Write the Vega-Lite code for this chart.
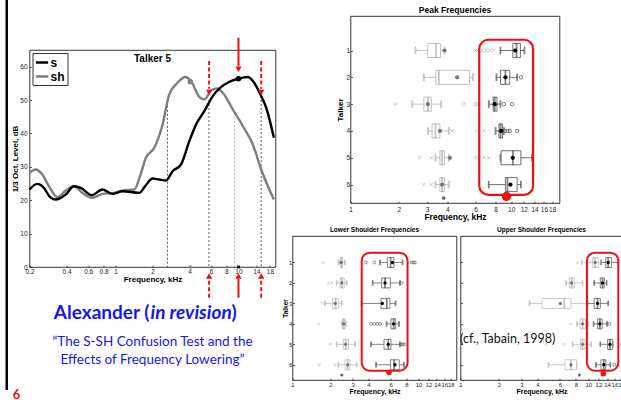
{
  "$schema": "https://vega.github.io/schema/vega-lite/v6.json",
  "padding": {"left": 5.5, "top": 0, "right": 0, "bottom": 0},
  "background": "#ffffff",
  "config": {
    "view": {"stroke": null},
    "font": "Liberation Sans",
    "axis": {"labelFont": "Liberation Sans", "titleFont": "Liberation Sans", "labelColor": "#222", "titleColor": "#000", "grid": false, "domain": false, "tickColor": "#000", "tickWidth": 0.6, "labelFlush": false, "labelOverlap": false, "labelBound": false},
    "title": {"font": "Liberation Sans", "color": "#000"}
  },
  "datasets": {
    "lc_curves": [
      {"f": 0.2, "v": 28.2, "g": "sh"}, {"f": 0.224, "v": 29.2, "g": "sh"}, {"f": 0.254, "v": 27.7, "g": "sh"}, {"f": 0.288, "v": 24.2, "g": "sh"}, {"f": 0.3367, "v": 20.9, "g": "sh"}, {"f": 0.394, "v": 22.9, "g": "sh"}, {"f": 0.46, "v": 24.2, "g": "sh"}, {"f": 0.538, "v": 22.2, "g": "sh"}, {"f": 0.641, "v": 20.7, "g": "sh"}, {"f": 0.783, "v": 21.9, "g": "sh"}, {"f": 0.975, "v": 22.2, "g": "sh"}, {"f": 1.14, "v": 22.9, "g": "sh"}, {"f": 1.42, "v": 23.2, "g": "sh"}, {"f": 1.609, "v": 28.0, "g": "sh"}, {"f": 1.767, "v": 32.7, "g": "sh"}, {"f": 2.066, "v": 35.7, "g": "sh"}, {"f": 2.416, "v": 42.7, "g": "sh"}, {"f": 2.738, "v": 51.7, "g": "sh"}, {"f": 3.2, "v": 55.2, "g": "sh"}, {"f": 3.7, "v": 56.9, "g": "sh"}, {"f": 4.113, "v": 55.7, "g": "sh"}, {"f": 4.81, "v": 50.9, "g": "sh"}, {"f": 5.28, "v": 50.2, "g": "sh"}, {"f": 5.99, "v": 52.9, "g": "sh"}, {"f": 6.66, "v": 53.5, "g": "sh"}, {"f": 7.45, "v": 52.2, "g": "sh"}, {"f": 8.99, "v": 47.2, "g": "sh"}, {"f": 10.85, "v": 42.2, "g": "sh"}, {"f": 13.09, "v": 36.7, "g": "sh"}, {"f": 15.3, "v": 29.2, "g": "sh"}, {"f": 19.41, "v": 20.2, "g": "sh"},
      {"f": 0.2, "v": 23.2, "g": "s"}, {"f": 0.2312, "v": 24.9, "g": "s"}, {"f": 0.262, "v": 23.7, "g": "s"}, {"f": 0.29, "v": 21.2, "g": "s"}, {"f": 0.326, "v": 20.2, "g": "s"}, {"f": 0.394, "v": 21.7, "g": "s"}, {"f": 0.46, "v": 24.2, "g": "s"}, {"f": 0.522, "v": 23.7, "g": "s"}, {"f": 0.641, "v": 21.5, "g": "s"}, {"f": 0.783, "v": 23.2, "g": "s"}, {"f": 0.945, "v": 21.9, "g": "s"}, {"f": 1.14, "v": 22.7, "g": "s"}, {"f": 1.56, "v": 22.2, "g": "s"}, {"f": 1.767, "v": 24.5, "g": "s"}, {"f": 2.0, "v": 26.5, "g": "s"}, {"f": 2.27, "v": 26.2, "g": "s"}, {"f": 2.57, "v": 25.9, "g": "s"}, {"f": 2.915, "v": 28.7, "g": "s"}, {"f": 3.41, "v": 30.7, "g": "s"}, {"f": 3.985, "v": 37.7, "g": "s"}, {"f": 4.52, "v": 42.7, "g": "s"}, {"f": 5.28, "v": 46.7, "g": "s"}, {"f": 6.18, "v": 51.2, "g": "s"}, {"f": 7.0, "v": 53.5, "g": "s"}, {"f": 8.45, "v": 55.5, "g": "s"}, {"f": 10.0, "v": 56.4, "g": "s"}, {"f": 11.92, "v": 56.9, "g": "s"}, {"f": 13.09, "v": 55.7, "g": "s"}, {"f": 15.3, "v": 51.2, "g": "s"}, {"f": 16.81, "v": 47.7, "g": "s"}, {"f": 19.41, "v": 38.7, "g": "s"}
    ],
    "lc_guides": [
      {"f": 2.65, "v": 48.3, "v2": 0, "c": "dark"},
      {"f": 5.75, "v": 50.0, "v2": 0, "c": "dark"},
      {"f": 9.28, "v": 46.2, "v2": 0, "c": "light"},
      {"f": 15.3, "v": 51.2, "v2": 0, "c": "dark"}
    ],
    "lc_dots": [
      {"f": 10.0, "v": 56.4, "g": "s", "k": "curve"},
      {"f": 4.06, "v": 55.5, "g": "sh", "k": "curve"},
      {"f": 10.0, "v": 0, "g": "s", "k": "axis"},
      {"f": 4.06, "v": 0, "g": "sh", "k": "axis"}
    ],
    "lc_arrows": [
      {"f": 5.77, "v": 61.7, "v2": 53.4, "k": "dashed"},
      {"f": 10.0, "v": 68.7, "v2": 60.2, "k": "solid"},
      {"f": 15.3, "v": 61.7, "v2": 53.4, "k": "dashed"},
      {"f": 5.77, "v": -9.2, "v2": -3.6, "k": "dashed"},
      {"f": 10.0, "v": -9.2, "v2": -3.6, "k": "solid"},
      {"f": 15.3, "v": -9.2, "v2": -3.6, "k": "dashed"}
    ],
    "lc_heads": [
      {"f": 5.77, "v": 52.3, "d": "down"},
      {"f": 10.0, "v": 59.2, "d": "down"},
      {"f": 15.3, "v": 52.3, "d": "down"},
      {"f": 5.77, "v": -2.7, "d": "up"},
      {"f": 10.0, "v": -2.7, "d": "up"},
      {"f": 15.3, "v": -2.7, "d": "up"}
    ],
    "lc_label": [{"f": 2.0, "v": 62.3, "text": "Talker 5"}],
    "slide": [
      {"id": "t1", "text": "Alexander ("},
      {"id": "t2", "text": "in revision"},
      {"id": "t3", "text": ")"},
      {"id": "sub", "text": "“The S-SH Confusion Test and the\nEffects of Frequency Lowering”"},
      {"id": "num", "text": "6"}
    ],
    "bx": [
      {"chart": "peak", "g": "sh", "t": 1, "wlo": 2.54, "q1": 3.03, "med": 3.41, "q3": 3.63, "whi": 3.85, "mean": 3.85},
      {"chart": "peak", "g": "sh", "t": 2, "wlo": 2.86, "q1": 3.4, "med": 3.55, "q3": 5.5, "whi": 5.8, "mean": 4.61},
      {"chart": "peak", "g": "sh", "t": 3, "wlo": 2.42, "q1": 2.86, "med": 3.03, "q3": 3.19, "whi": 3.67, "mean": 3.03},
      {"chart": "peak", "g": "sh", "t": 4, "wlo": 3.04, "q1": 3.22, "med": 3.38, "q3": 3.6, "whi": 4.09, "mean": 3.6},
      {"chart": "peak", "g": "sh", "t": 5, "wlo": 3.38, "q1": 3.6, "med": 3.72, "q3": 3.85, "whi": 4.09, "mean": 4.16},
      {"chart": "peak", "g": "sh", "t": 6, "wlo": 3.38, "q1": 3.6, "med": 3.72, "q3": 3.85, "whi": 4.09, "mean": 3.72},
      {"chart": "peak", "g": "s", "t": 1, "wlo": 8.58, "q1": 10.25, "med": 10.8, "q3": 11.42, "whi": 12.1, "mean": 10.6},
      {"chart": "peak", "g": "s", "t": 2, "wlo": 8.1, "q1": 8.58, "med": 9.21, "q3": 9.8, "whi": 10.9, "mean": 9.21},
      {"chart": "peak", "g": "s", "t": 3, "wlo": 7.26, "q1": 7.73, "med": 7.9, "q3": 8.17, "whi": 8.58, "mean": 7.91},
      {"chart": "peak", "g": "s", "t": 4, "wlo": 8.0, "q1": 8.4, "med": 8.6, "q3": 8.85, "whi": 9.0, "mean": 8.66},
      {"chart": "peak", "g": "s", "t": 5, "wlo": 8.58, "q1": 8.66, "med": 10.25, "q3": 11.5, "whi": 13.5, "mean": 10.25},
      {"chart": "peak", "g": "s", "t": 6, "wlo": 7.26, "q1": 9.21, "med": 9.48, "q3": 10.9, "whi": 11.5, "mean": 9.9},
      {"chart": "lower", "g": "sh", "t": 1, "wlo": 2.31, "q1": 2.39, "med": 2.45, "q3": 2.5, "whi": 2.61, "mean": 2.43},
      {"chart": "lower", "g": "sh", "t": 2, "wlo": 2.24, "q1": 2.39, "med": 2.47, "q3": 2.57, "whi": 2.69, "mean": 2.46},
      {"chart": "lower", "g": "sh", "t": 3, "wlo": 1.81, "q1": 2.08, "med": 2.2, "q3": 2.31, "whi": 2.46, "mean": 2.18},
      {"chart": "lower", "g": "sh", "t": 4, "wlo": 2.47, "q1": 2.49, "med": 2.55, "q3": 2.61, "whi": 2.65, "mean": 2.55},
      {"chart": "lower", "g": "sh", "t": 5, "wlo": 2.24, "q1": 2.53, "med": 2.64, "q3": 2.78, "whi": 3.14, "mean": 2.64},
      {"chart": "lower", "g": "sh", "t": 6, "wlo": 2.31, "q1": 2.61, "med": 2.74, "q3": 2.86, "whi": 3.23, "mean": 2.74},
      {"chart": "lower", "g": "s", "t": 1, "wlo": 4.95, "q1": 5.65, "med": 6.0, "q3": 6.38, "whi": 7.47, "mean": 6.19},
      {"chart": "lower", "g": "s", "t": 2, "wlo": 4.32, "q1": 5.1, "med": 5.42, "q3": 5.97, "whi": 7.12, "mean": 5.42},
      {"chart": "lower", "g": "s", "t": 3, "wlo": 3.54, "q1": 5.04, "med": 5.6, "q3": 5.93, "whi": 6.58, "mean": 5.16},
      {"chart": "lower", "g": "s", "t": 4, "wlo": 5.58, "q1": 6.04, "med": 6.34, "q3": 6.58, "whi": 7.0, "mean": 6.34},
      {"chart": "lower", "g": "s", "t": 5, "wlo": 4.2, "q1": 5.32, "med": 5.75, "q3": 6.04, "whi": 7.12, "mean": 5.75},
      {"chart": "lower", "g": "s", "t": 6, "wlo": 4.6, "q1": 6.0, "med": 6.4, "q3": 7.03, "whi": 7.66, "mean": 6.5},
      {"chart": "upper", "g": "sh", "t": 1, "wlo": 8.87, "q1": 10.8, "med": 11.3, "q3": 11.97, "whi": 12.55, "mean": 11.3},
      {"chart": "upper", "g": "sh", "t": 2, "wlo": 6.68, "q1": 7.1, "med": 7.41, "q3": 7.78, "whi": 9.0, "mean": 7.41},
      {"chart": "upper", "g": "sh", "t": 3, "wlo": 3.46, "q1": 4.34, "med": 6.49, "q3": 7.31, "whi": 9.7, "mean": 6.04},
      {"chart": "upper", "g": "sh", "t": 4, "wlo": 8.15, "q1": 8.6, "med": 9.02, "q3": 9.47, "whi": 10.0, "mean": 9.02},
      {"chart": "upper", "g": "sh", "t": 5, "wlo": 7.54, "q1": 8.66, "med": 9.02, "q3": 9.41, "whi": 10.5, "mean": 9.02},
      {"chart": "upper", "g": "sh", "t": 6, "wlo": 4.87, "q1": 6.56, "med": 7.31, "q3": 8.1, "whi": 8.1, "mean": 7.31},
      {"chart": "upper", "g": "s", "t": 1, "wlo": 12.55, "q1": 13.7, "med": 14.3, "q3": 15.2, "whi": 17.2, "mean": 14.3},
      {"chart": "upper", "g": "s", "t": 2, "wlo": 11.1, "q1": 12.4, "med": 12.9, "q3": 13.3, "whi": 13.9, "mean": 12.9},
      {"chart": "upper", "g": "s", "t": 3, "wlo": 9.87, "q1": 11.1, "med": 11.8, "q3": 12.4, "whi": 14.3, "mean": 11.8},
      {"chart": "upper", "g": "s", "t": 4, "wlo": 11.0, "q1": 11.8, "med": 12.3, "q3": 12.8, "whi": 14.0, "mean": 12.3},
      {"chart": "upper", "g": "s", "t": 5, "wlo": 12.4, "q1": 14.15, "med": 14.75, "q3": 15.5, "whi": 15.5, "mean": 14.75},
      {"chart": "upper", "g": "s", "t": 6, "wlo": 11.47, "q1": 12.55, "med": 13.2, "q3": 13.7, "whi": 14.85, "mean": 13.2}
    ],
    "ol": [
      {"chart": "peak", "g": "sh", "t": 1, "f": 6.0, "k": "x"}, {"chart": "peak", "g": "sh", "t": 1, "f": 6.37, "k": "o"}, {"chart": "peak", "g": "sh", "t": 1, "f": 6.77, "k": "o"}, {"chart": "peak", "g": "sh", "t": 1, "f": 7.15, "k": "o"}, {"chart": "peak", "g": "sh", "t": 1, "f": 7.6, "k": "o"},
      {"chart": "peak", "g": "s", "t": 2, "f": 11.5, "k": "o"},
      {"chart": "peak", "g": "sh", "t": 3, "f": 1.905, "k": "x"}, {"chart": "peak", "g": "sh", "t": 3, "f": 5.07, "k": "o"}, {"chart": "peak", "g": "sh", "t": 3, "f": 6.0, "k": "o"}, {"chart": "peak", "g": "sh", "t": 3, "f": 6.2, "k": "o"},
      {"chart": "peak", "g": "s", "t": 3, "f": 9.0, "k": "o"}, {"chart": "peak", "g": "s", "t": 3, "f": 10.14, "k": "o"},
      {"chart": "peak", "g": "sh", "t": 4, "f": 4.29, "k": "x"}, {"chart": "peak", "g": "sh", "t": 4, "f": 6.07, "k": "x"}, {"chart": "peak", "g": "sh", "t": 4, "f": 6.8, "k": "x"},
      {"chart": "peak", "g": "s", "t": 4, "f": 9.15, "k": "o"}, {"chart": "peak", "g": "s", "t": 4, "f": 9.5, "k": "o"}, {"chart": "peak", "g": "s", "t": 4, "f": 9.8, "k": "o"}, {"chart": "peak", "g": "s", "t": 4, "f": 10.9, "k": "o"},
      {"chart": "peak", "g": "sh", "t": 5, "f": 2.69, "k": "x"}, {"chart": "peak", "g": "sh", "t": 5, "f": 3.19, "k": "x"}, {"chart": "peak", "g": "sh", "t": 5, "f": 6.0, "k": "x"}, {"chart": "peak", "g": "sh", "t": 5, "f": 6.3, "k": "x"}, {"chart": "peak", "g": "sh", "t": 5, "f": 6.77, "k": "x"}, {"chart": "peak", "g": "sh", "t": 5, "f": 7.25, "k": "x"},
      {"chart": "peak", "g": "sh", "t": 6, "f": 2.86, "k": "x"}, {"chart": "peak", "g": "sh", "t": 6, "f": 3.19, "k": "x"},
      {"chart": "lower", "g": "sh", "t": 1, "f": 1.76, "k": "x"}, {"chart": "lower", "g": "sh", "t": 2, "f": 1.93, "k": "x"}, {"chart": "lower", "g": "sh", "t": 2, "f": 2.05, "k": "x"}, {"chart": "lower", "g": "sh", "t": 3, "f": 1.73, "k": "x"}, {"chart": "lower", "g": "sh", "t": 4, "f": 1.61, "k": "x"}, {"chart": "lower", "g": "sh", "t": 5, "f": 1.99, "k": "x"}, {"chart": "lower", "g": "sh", "t": 6, "f": 1.63, "k": "x"}, {"chart": "lower", "g": "sh", "t": 6, "f": 2.18, "k": "x"},
      {"chart": "lower", "g": "s", "t": 1, "f": 3.83, "k": "o"}, {"chart": "lower", "g": "s", "t": 1, "f": 4.46, "k": "o"}, {"chart": "lower", "g": "s", "t": 1, "f": 8.8, "k": "o"}, {"chart": "lower", "g": "s", "t": 1, "f": 9.1, "k": "o"}, {"chart": "lower", "g": "s", "t": 1, "f": 9.36, "k": "o"},
      {"chart": "lower", "g": "s", "t": 2, "f": 7.35, "k": "o"},
      {"chart": "lower", "g": "s", "t": 4, "f": 4.2, "k": "o"}, {"chart": "lower", "g": "s", "t": 4, "f": 4.45, "k": "o"}, {"chart": "lower", "g": "s", "t": 4, "f": 4.7, "k": "o"}, {"chart": "lower", "g": "s", "t": 4, "f": 4.95, "k": "o"},
      {"chart": "lower", "g": "s", "t": 5, "f": 7.25, "k": "o"}, {"chart": "lower", "g": "s", "t": 5, "f": 7.5, "k": "o"}, {"chart": "lower", "g": "s", "t": 5, "f": 7.75, "k": "o"},
      {"chart": "upper", "g": "sh", "t": 1, "f": 8.25, "k": "x"}, {"chart": "upper", "g": "sh", "t": 4, "f": 7.23, "k": "x"}, {"chart": "upper", "g": "sh", "t": 5, "f": 4.67, "k": "x"}, {"chart": "upper", "g": "sh", "t": 5, "f": 6.41, "k": "x"},
      {"chart": "upper", "g": "s", "t": 4, "f": 14.6, "k": "o"}, {"chart": "upper", "g": "s", "t": 5, "f": 18.3, "k": "o"}, {"chart": "upper", "g": "s", "t": 6, "f": 15.96, "k": "o"}
    ],
    "hl": [
      {"chart": "peak", "f": 6.33, "f2": 13.7, "t": 0.6, "t2": 6.38},
      {"chart": "lower", "f": 3.54, "f2": 8.18, "t": 0.52, "t2": 6.29},
      {"chart": "upper", "f": 9.75, "f2": 17.16, "t": 0.52, "t2": 6.29}
    ],
    "rd": [
      {"chart": "peak", "f": 9.35, "t": 6.44},
      {"chart": "lower", "f": 5.83, "t": 6.38},
      {"chart": "upper", "f": 13.1, "t": 6.44}
    ],
    "gm": [
      {"chart": "peak", "f": 3.8, "t": 6.5},
      {"chart": "lower", "f": 2.46, "t": 6.5},
      {"chart": "upper", "f": 8.5, "t": 6.5}
    ],
    "note": [{"chart": "upper", "f": 2.34, "t": 4.76, "text": "(cf., Tabain, 1998)"}]
  },
  "resolve": {"scale": {"color": "independent", "stroke": "independent", "shape": "independent", "strokeDash": "independent", "fill": "independent"}},
  "spacing": 2,
  "hconcat": [
    {
      "width": 2.5, "height": 390,
      "view": {"fill": "#000000", "stroke": null},
      "data": {"values": []},
      "mark": "point",
      "encoding": {}
    },
    {
      "spacing": 4,
      "resolve": {"scale": {"color": "independent", "stroke": "independent", "shape": "independent", "strokeDash": "independent", "fill": "independent"}},
      "vconcat": [
        {"width": 1, "height": 32, "data": {"values": []}, "mark": "point", "encoding": {}},
        {
          "width": 246, "height": 217,
          "view": {"stroke": "#000", "strokeWidth": 0.8},
          "encoding": {
            "x": {"field": "f", "type": "quantitative", "scale": {"type": "log", "domain": [0.2, 20], "nice": false},
                  "axis": {"values": [0.2, 0.4, 0.6, 0.8, 1, 2, 4, 6, 8, 10, 14, 18], "format": "~g", "title": "Frequency, kHz", "labelFontSize": 6.5, "titleFontSize": 8, "titleFontWeight": "bold", "tickSize": -2, "labelPadding": 3.5, "titlePadding": 0}},
            "y": {"field": "v", "type": "quantitative", "scale": {"domain": [0, 65], "nice": false, "zero": false},
                  "axis": {"values": [0, 10, 20, 30, 40, 50, 60], "title": "1/3 Oct. Level, dB", "labelFontSize": 6.5, "titleFontSize": 8, "titleFontWeight": "bold", "tickSize": -2, "labelPadding": 4.5, "titlePadding": 0}}
          },
          "layer": [
            {
              "data": {"name": "lc_guides"},
              "mark": {"type": "rule", "strokeWidth": 0.8, "strokeDash": [2, 2]},
              "encoding": {
                "y2": {"field": "v2"},
                "stroke": {"field": "c", "type": "nominal", "scale": {"domain": ["dark", "light"], "range": ["#333333", "#aaaaaa"]}, "legend": null}
              }
            },
            {
              "data": {"name": "lc_curves"},
              "mark": {"type": "line", "interpolate": "monotone", "strokeWidth": 2.4},
              "encoding": {
                "color": {"field": "g", "type": "nominal", "scale": {"domain": ["s", "sh"], "range": ["#000000", "#7f7f7f"]},
                  "legend": {"title": null, "orient": "top-left", "offset": 3, "padding": 2, "strokeColor": "#333", "fillColor": "#fff", "labelFontSize": 12, "labelFontWeight": "bold", "labelFont": "Liberation Sans", "labelColor": "#000", "symbolType": "stroke", "symbolStrokeWidth": 2.5, "symbolSize": 150, "rowPadding": 0, "labelOffset": 1}}
              }
            },
            {
              "data": {"name": "lc_dots"},
              "transform": [{"filter": "datum.k == 'curve'"}],
              "mark": {"type": "point", "filled": true, "size": 30, "opacity": 1},
              "encoding": {
                "fill": {"field": "g", "type": "nominal", "scale": {"domain": ["s", "sh"], "range": ["#000000", "#7f7f7f"]}, "legend": null}
              }
            },
            {
              "data": {"name": "lc_dots"},
              "transform": [{"filter": "datum.k == 'axis'"}],
              "mark": {"type": "square", "size": 8, "opacity": 1},
              "encoding": {
                "fill": {"field": "g", "type": "nominal", "scale": {"domain": ["s", "sh"], "range": ["#000000", "#7f7f7f"]}, "legend": null}
              }
            },
            {
              "data": {"name": "lc_label"},
              "mark": {"type": "text", "fontSize": 10, "fontWeight": "bold", "font": "Liberation Sans", "color": "#000"},
              "encoding": {"text": {"field": "text"}}
            },
            {
              "data": {"name": "lc_arrows"},
              "mark": {"type": "rule", "strokeWidth": 2, "color": "#ee1111"},
              "encoding": {
                "y2": {"field": "v2"},
                "strokeDash": {"field": "k", "type": "nominal", "scale": {"domain": ["solid", "dashed"], "range": [[1, 0], [4, 2.5]]}, "legend": null}
              }
            },
            {
              "data": {"name": "lc_heads"},
              "mark": {"type": "point", "filled": true, "size": 40, "color": "#ee1111", "opacity": 1},
              "encoding": {
                "shape": {"field": "d", "type": "nominal", "scale": {"domain": ["down", "up"], "range": ["triangle-down", "triangle-up"]}, "legend": null}
              }
            }
          ]
        },
        {
          "width": 246, "height": 100,
          "data": {"name": "slide"},
          "layer": [
            {"transform": [{"filter": "datum.id == 't1'"}], "mark": {"type": "text", "font": "Lato", "fontSize": 19, "fontWeight": "bold", "color": "#1515ee", "align": "right", "baseline": "alphabetic", "dx": -3, "dy": -35}, "encoding": {"text": {"field": "text"}}},
            {"transform": [{"filter": "datum.id == 't2'"}], "mark": {"type": "text", "font": "Lato", "fontSize": 19, "fontWeight": "bold", "fontStyle": "italic", "color": "#1515ee", "align": "left", "baseline": "alphabetic", "dx": -2, "dy": -35}, "encoding": {"text": {"field": "text"}}},
            {"transform": [{"filter": "datum.id == 't3'"}], "mark": {"type": "text", "font": "Lato", "fontSize": 19, "fontWeight": "bold", "color": "#1515ee", "align": "left", "baseline": "alphabetic", "dx": 79, "dy": -35}, "encoding": {"text": {"field": "text"}}},
            {"transform": [{"filter": "datum.id == 'sub'"}], "mark": {"type": "text", "font": "Lato", "fontSize": 13.5, "color": "#1515ee", "align": "center", "baseline": "alphabetic", "lineBreak": "\n", "lineHeight": 18, "dy": -8}, "encoding": {"text": {"field": "text"}}},
            {"transform": [{"filter": "datum.id == 'num'"}], "mark": {"type": "text", "font": "Lato", "fontSize": 13, "fontWeight": "bold", "color": "#e01010", "align": "center", "baseline": "alphabetic", "dx": -136, "dy": 45}, "encoding": {"text": {"field": "text"}}}
          ]
        }
      ]
    },
    {
      "spacing": 4,
      "resolve": {"scale": {"color": "independent", "stroke": "independent", "shape": "independent", "strokeDash": "independent", "fill": "independent"}},
      "vconcat": [
        {"width": 1, "height": 1, "data": {"values": []}, "mark": "point", "encoding": {}},
        {
          "spacing": 4,
          "resolve": {"scale": {"color": "independent", "stroke": "independent", "shape": "independent", "strokeDash": "independent", "fill": "independent"}},
          "hconcat": [
            {"width": 39, "height": 1, "data": {"values": []}, "mark": "point", "encoding": {}},
            {
              "width": 209, "height": 187,
              "view": {"stroke": "#000", "strokeWidth": 0.8},
              "title": {"text": "Peak Frequencies", "fontSize": 8.5, "fontWeight": "bold", "offset": 2},
              "encoding": {
                "y": {"field": "t", "type": "quantitative", "scale": {"domain": [-0.1, 6.5], "reverse": true, "nice": false, "zero": false},
                      "axis": {"values": [1, 2, 3, 4, 5, 6], "title": "Talker", "labelFontSize": 6.5, "titleFontSize": 8, "titleFontWeight": "bold", "tickSize": -2, "labelPadding": 3, "titlePadding": 1}}
              },
              "layer": [
                {"data": {"name": "bx"}, "transform": [{"filter": "datum.chart == 'peak'"}],
                 "mark": {"type": "rule", "strokeWidth": 0.8},
                 "encoding": {
                   "x": {"field": "wlo", "type": "quantitative", "scale": {"type": "log", "domain": [1, 20], "nice": false},
                         "axis": {"values": [1, 2, 3, 4, 6, 8, 10, 12, 14, 16, 18], "format": "~g", "title": "Frequency, kHz", "labelFontSize": 6.5, "titleFontSize": 8.5, "titleFontWeight": "bold", "tickSize": -2, "labelPadding": 5, "titlePadding": 0}},
                   "x2": {"field": "whi"},
                   "stroke": {"field": "g", "type": "nominal", "scale": {"domain": ["s", "sh"], "range": ["#4d4d4d", "#b3b3b3"]}, "legend": null}
                 }},
                {"data": {"name": "bx"}, "transform": [{"filter": "datum.chart == 'peak'"}],
                 "mark": {"type": "tick", "orient": "vertical", "size": 7, "thickness": 0.8},
                 "encoding": {"x": {"field": "wlo", "type": "quantitative", "scale": {"type": "log", "domain": [1, 20], "nice": false}},
                   "stroke": {"field": "g", "type": "nominal", "scale": {"domain": ["s", "sh"], "range": ["#4d4d4d", "#b3b3b3"]}, "legend": null}}},
                {"data": {"name": "bx"}, "transform": [{"filter": "datum.chart == 'peak'"}],
                 "mark": {"type": "tick", "orient": "vertical", "size": 7, "thickness": 0.8},
                 "encoding": {"x": {"field": "whi", "type": "quantitative", "scale": {"type": "log", "domain": [1, 20], "nice": false}},
                   "stroke": {"field": "g", "type": "nominal", "scale": {"domain": ["s", "sh"], "range": ["#4d4d4d", "#b3b3b3"]}, "legend": null}}},
                {"data": {"name": "bx"}, "transform": [{"filter": "datum.chart == 'peak'"}],
                 "mark": {"type": "bar", "orient": "horizontal", "size": 14, "fill": "#ffffff", "strokeWidth": 0.8},
                 "encoding": {"x": {"field": "q1", "type": "quantitative", "scale": {"type": "log", "domain": [1, 20], "nice": false}},
                   "x2": {"field": "q3"},
                   "stroke": {"field": "g", "type": "nominal", "scale": {"domain": ["s", "sh"], "range": ["#4d4d4d", "#b3b3b3"]}, "legend": null}}},
                {"data": {"name": "bx"}, "transform": [{"filter": "datum.chart == 'peak'"}],
                 "mark": {"type": "tick", "orient": "vertical", "size": 14, "thickness": 0.8},
                 "encoding": {"x": {"field": "med", "type": "quantitative", "scale": {"type": "log", "domain": [1, 20], "nice": false}},
                   "stroke": {"field": "g", "type": "nominal", "scale": {"domain": ["s", "sh"], "range": ["#4d4d4d", "#b3b3b3"]}, "legend": null}}},
                {"data": {"name": "ol"}, "transform": [{"filter": "datum.chart == 'peak'"}],
                 "mark": {"type": "point", "filled": false, "size": 12, "strokeWidth": 0.7, "opacity": 1},
                 "encoding": {"x": {"field": "f", "type": "quantitative", "scale": {"type": "log", "domain": [1, 20], "nice": false}},
                   "stroke": {"field": "g", "type": "nominal", "scale": {"domain": ["s", "sh"], "range": ["#4d4d4d", "#b3b3b3"]}, "legend": null},
                   "shape": {"field": "k", "type": "nominal", "scale": {"domain": ["o", "x"], "range": ["circle", "M-1,-1L1,1M-1,1L1,-1"]}, "legend": null}}},
                {"data": {"name": "bx"}, "transform": [{"filter": "datum.chart == 'peak'"}],
                 "mark": {"type": "point", "filled": true, "size": 18, "opacity": 1},
                 "encoding": {"x": {"field": "mean", "type": "quantitative", "scale": {"type": "log", "domain": [1, 20], "nice": false}},
                   "color": {"field": "g", "type": "nominal", "scale": {"domain": ["s", "sh"], "range": ["#000000", "#777777"]},
                     "legend": {"title": null, "orient": "top-left", "offset": 3, "padding": 2, "strokeColor": "#555", "fillColor": "#fff", "labelFontSize": 10, "labelFontWeight": "bold", "labelFont": "Liberation Sans", "labelColor": "#000", "symbolType": "circle", "symbolSize": 16, "rowPadding": 0, "labelOffset": 3}}}},
                {"data": {"name": "gm"}, "transform": [{"filter": "datum.chart == 'peak'"}],
                 "mark": {"type": "point", "filled": true, "size": 14, "color": "#666666", "opacity": 1},
                 "encoding": {"x": {"field": "f", "type": "quantitative", "scale": {"type": "log", "domain": [1, 20], "nice": false}}}},
                {"data": {"name": "hl"}, "transform": [{"filter": "datum.chart == 'peak'"}],
                 "mark": {"type": "rect", "fill": null, "fillOpacity": 0, "stroke": "#ee1111", "strokeWidth": 2.2, "cornerRadius": 9},
                 "encoding": {"x": {"field": "f", "type": "quantitative", "scale": {"type": "log", "domain": [1, 20], "nice": false}},
                   "x2": {"field": "f2"}, "y2": {"field": "t2"}}},
                {"data": {"name": "rd"}, "transform": [{"filter": "datum.chart == 'peak'"}],
                 "mark": {"type": "point", "filled": true, "size": 85, "color": "#ee1111", "opacity": 1},
                 "encoding": {"x": {"field": "f", "type": "quantitative", "scale": {"type": "log", "domain": [1, 20], "nice": false}}}}
              ]
            }
          ]
        },
        {
          "spacing": 0,
          "resolve": {"scale": {"color": "independent", "stroke": "independent", "shape": "independent", "strokeDash": "independent", "fill": "independent"}},
          "hconcat": [
            {
              "width": 164, "height": 144,
              "view": {"stroke": "#000", "strokeWidth": 0.8},
              "title": {"text": "Lower Shoulder Frequencies", "fontSize": 6.5, "fontWeight": "bold", "offset": 3},
              "encoding": {
                "y": {"field": "t", "type": "quantitative", "scale": {"domain": [-0.05, 6.5], "reverse": true, "nice": false, "zero": false},
                      "axis": {"values": [1, 2, 3, 4, 5, 6], "title": "Talker", "labelFontSize": 6, "titleFontSize": 6.5, "titleFontWeight": "bold", "tickSize": -2, "labelPadding": 2.7, "titlePadding": 0}}
              },
              "layer": [
                {"data": {"name": "bx"}, "transform": [{"filter": "datum.chart == 'lower'"}],
                 "mark": {"type": "rule", "strokeWidth": 0.7},
                 "encoding": {
                   "x": {"field": "wlo", "type": "quantitative", "scale": {"type": "log", "domain": [1, 20], "nice": false},
                         "axis": {"values": [1, 2, 3, 4, 6, 8, 10, 12, 14, 16, 18], "format": "~g", "title": "Frequency, kHz", "labelFontSize": 6, "titleFontSize": 7, "titleFontWeight": "bold", "tickSize": -2, "labelPadding": 3, "titlePadding": 0}},
                   "x2": {"field": "whi"},
                   "stroke": {"field": "g", "type": "nominal", "scale": {"domain": ["s", "sh"], "range": ["#4d4d4d", "#b3b3b3"]}, "legend": null}
                 }},
                {"data": {"name": "bx"}, "transform": [{"filter": "datum.chart == 'lower'"}],
                 "mark": {"type": "tick", "orient": "vertical", "size": 5, "thickness": 0.7},
                 "encoding": {"x": {"field": "wlo", "type": "quantitative", "scale": {"type": "log", "domain": [1, 20], "nice": false}},
                   "stroke": {"field": "g", "type": "nominal", "scale": {"domain": ["s", "sh"], "range": ["#4d4d4d", "#b3b3b3"]}, "legend": null}}},
                {"data": {"name": "bx"}, "transform": [{"filter": "datum.chart == 'lower'"}],
                 "mark": {"type": "tick", "orient": "vertical", "size": 5, "thickness": 0.7},
                 "encoding": {"x": {"field": "whi", "type": "quantitative", "scale": {"type": "log", "domain": [1, 20], "nice": false}},
                   "stroke": {"field": "g", "type": "nominal", "scale": {"domain": ["s", "sh"], "range": ["#4d4d4d", "#b3b3b3"]}, "legend": null}}},
                {"data": {"name": "bx"}, "transform": [{"filter": "datum.chart == 'lower'"}],
                 "mark": {"type": "bar", "orient": "horizontal", "size": 10, "fill": "#ffffff", "strokeWidth": 0.7},
                 "encoding": {"x": {"field": "q1", "type": "quantitative", "scale": {"type": "log", "domain": [1, 20], "nice": false}},
                   "x2": {"field": "q3"},
                   "stroke": {"field": "g", "type": "nominal", "scale": {"domain": ["s", "sh"], "range": ["#4d4d4d", "#b3b3b3"]}, "legend": null}}},
                {"data": {"name": "bx"}, "transform": [{"filter": "datum.chart == 'lower'"}],
                 "mark": {"type": "tick", "orient": "vertical", "size": 10, "thickness": 0.7},
                 "encoding": {"x": {"field": "med", "type": "quantitative", "scale": {"type": "log", "domain": [1, 20], "nice": false}},
                   "stroke": {"field": "g", "type": "nominal", "scale": {"domain": ["s", "sh"], "range": ["#4d4d4d", "#b3b3b3"]}, "legend": null}}},
                {"data": {"name": "ol"}, "transform": [{"filter": "datum.chart == 'lower'"}],
                 "mark": {"type": "point", "filled": false, "size": 8, "strokeWidth": 0.6, "opacity": 1},
                 "encoding": {"x": {"field": "f", "type": "quantitative", "scale": {"type": "log", "domain": [1, 20], "nice": false}},
                   "stroke": {"field": "g", "type": "nominal", "scale": {"domain": ["s", "sh"], "range": ["#4d4d4d", "#b3b3b3"]}, "legend": null},
                   "shape": {"field": "k", "type": "nominal", "scale": {"domain": ["o", "x"], "range": ["circle", "M-1,-1L1,1M-1,1L1,-1"]}, "legend": null}}},
                {"data": {"name": "bx"}, "transform": [{"filter": "datum.chart == 'lower'"}],
                 "mark": {"type": "point", "filled": true, "size": 11, "opacity": 1},
                 "encoding": {"x": {"field": "mean", "type": "quantitative", "scale": {"type": "log", "domain": [1, 20], "nice": false}},
                   "color": {"field": "g", "type": "nominal", "scale": {"domain": ["s", "sh"], "range": ["#000000", "#777777"]},
                     "legend": {"title": null, "orient": "top-left", "offset": 2, "padding": 2, "strokeColor": "#555", "fillColor": "#fff", "labelFontSize": 6.5, "labelFontWeight": "bold", "labelFont": "Liberation Sans", "labelColor": "#000", "symbolType": "circle", "symbolSize": 9, "rowPadding": 0, "labelOffset": 3}}}},
                {"data": {"name": "gm"}, "transform": [{"filter": "datum.chart == 'lower'"}],
                 "mark": {"type": "point", "filled": true, "size": 9, "color": "#666666", "opacity": 1},
                 "encoding": {"x": {"field": "f", "type": "quantitative", "scale": {"type": "log", "domain": [1, 20], "nice": false}}}},
                {"data": {"name": "hl"}, "transform": [{"filter": "datum.chart == 'lower'"}],
                 "mark": {"type": "rect", "fill": null, "fillOpacity": 0, "stroke": "#ee1111", "strokeWidth": 2, "cornerRadius": 8},
                 "encoding": {"x": {"field": "f", "type": "quantitative", "scale": {"type": "log", "domain": [1, 20], "nice": false}},
                   "x2": {"field": "f2"}, "y2": {"field": "t2"}}},
                {"data": {"name": "rd"}, "transform": [{"filter": "datum.chart == 'lower'"}],
                 "mark": {"type": "point", "filled": true, "size": 30, "color": "#ee1111", "opacity": 1},
                 "encoding": {"x": {"field": "f", "type": "quantitative", "scale": {"type": "log", "domain": [1, 20], "nice": false}}}}
              ]
            },
            {
              "width": 162, "height": 144,
              "view": {"stroke": "#000", "strokeWidth": 0.8},
              "title": {"text": "Upper Shoulder Frequencies", "fontSize": 6.5, "fontWeight": "bold", "offset": 3},
              "encoding": {
                "y": {"field": "t", "type": "quantitative", "scale": {"domain": [-0.05, 6.5], "reverse": true, "nice": false, "zero": false},
                      "axis": {"values": [1, 2, 3, 4, 5, 6], "title": null, "labels": false, "tickSize": -2}}
              },
              "layer": [
                {"data": {"name": "bx"}, "transform": [{"filter": "datum.chart == 'upper'"}],
                 "mark": {"type": "rule", "strokeWidth": 0.7},
                 "encoding": {
                   "x": {"field": "wlo", "type": "quantitative", "scale": {"type": "log", "domain": [1, 18.5], "nice": false},
                         "axis": {"values": [1, 2, 3, 4, 6, 8, 10, 12, 14, 16, 18], "format": "~g", "title": "Frequency, kHz", "labelFontSize": 6, "titleFontSize": 7, "titleFontWeight": "bold", "tickSize": -2, "labelPadding": 3, "titlePadding": 0}},
                   "x2": {"field": "whi"},
                   "stroke": {"field": "g", "type": "nominal", "scale": {"domain": ["s", "sh"], "range": ["#4d4d4d", "#b3b3b3"]}, "legend": null}
                 }},
                {"data": {"name": "bx"}, "transform": [{"filter": "datum.chart == 'upper'"}],
                 "mark": {"type": "tick", "orient": "vertical", "size": 5, "thickness": 0.7},
                 "encoding": {"x": {"field": "wlo", "type": "quantitative", "scale": {"type": "log", "domain": [1, 18.5], "nice": false}},
                   "stroke": {"field": "g", "type": "nominal", "scale": {"domain": ["s", "sh"], "range": ["#4d4d4d", "#b3b3b3"]}, "legend": null}}},
                {"data": {"name": "bx"}, "transform": [{"filter": "datum.chart == 'upper'"}],
                 "mark": {"type": "tick", "orient": "vertical", "size": 5, "thickness": 0.7},
                 "encoding": {"x": {"field": "whi", "type": "quantitative", "scale": {"type": "log", "domain": [1, 18.5], "nice": false}},
                   "stroke": {"field": "g", "type": "nominal", "scale": {"domain": ["s", "sh"], "range": ["#4d4d4d", "#b3b3b3"]}, "legend": null}}},
                {"data": {"name": "bx"}, "transform": [{"filter": "datum.chart == 'upper'"}],
                 "mark": {"type": "bar", "orient": "horizontal", "size": 10, "fill": "#ffffff", "strokeWidth": 0.7},
                 "encoding": {"x": {"field": "q1", "type": "quantitative", "scale": {"type": "log", "domain": [1, 18.5], "nice": false}},
                   "x2": {"field": "q3"},
                   "stroke": {"field": "g", "type": "nominal", "scale": {"domain": ["s", "sh"], "range": ["#4d4d4d", "#b3b3b3"]}, "legend": null}}},
                {"data": {"name": "bx"}, "transform": [{"filter": "datum.chart == 'upper'"}],
                 "mark": {"type": "tick", "orient": "vertical", "size": 10, "thickness": 0.7},
                 "encoding": {"x": {"field": "med", "type": "quantitative", "scale": {"type": "log", "domain": [1, 18.5], "nice": false}},
                   "stroke": {"field": "g", "type": "nominal", "scale": {"domain": ["s", "sh"], "range": ["#4d4d4d", "#b3b3b3"]}, "legend": null}}},
                {"data": {"name": "ol"}, "transform": [{"filter": "datum.chart == 'upper'"}],
                 "mark": {"type": "point", "filled": false, "size": 8, "strokeWidth": 0.6, "opacity": 1},
                 "encoding": {"x": {"field": "f", "type": "quantitative", "scale": {"type": "log", "domain": [1, 18.5], "nice": false}},
                   "stroke": {"field": "g", "type": "nominal", "scale": {"domain": ["s", "sh"], "range": ["#4d4d4d", "#b3b3b3"]}, "legend": null},
                   "shape": {"field": "k", "type": "nominal", "scale": {"domain": ["o", "x"], "range": ["circle", "M-1,-1L1,1M-1,1L1,-1"]}, "legend": null}}},
                {"data": {"name": "bx"}, "transform": [{"filter": "datum.chart == 'upper'"}],
                 "mark": {"type": "point", "filled": true, "size": 11, "opacity": 1},
                 "encoding": {"x": {"field": "mean", "type": "quantitative", "scale": {"type": "log", "domain": [1, 18.5], "nice": false}},
                   "color": {"field": "g", "type": "nominal", "scale": {"domain": ["s", "sh"], "range": ["#000000", "#777777"]},
                     "legend": {"title": null, "orient": "top-left", "offset": 2, "padding": 2, "strokeColor": "#555", "fillColor": "#fff", "labelFontSize": 6.5, "labelFontWeight": "bold", "labelFont": "Liberation Sans", "labelColor": "#000", "symbolType": "circle", "symbolSize": 9, "rowPadding": 0, "labelOffset": 3}}}},
                {"data": {"name": "gm"}, "transform": [{"filter": "datum.chart == 'upper'"}],
                 "mark": {"type": "point", "filled": true, "size": 9, "color": "#666666", "opacity": 1},
                 "encoding": {"x": {"field": "f", "type": "quantitative", "scale": {"type": "log", "domain": [1, 18.5], "nice": false}}}},
                {"data": {"name": "note"},
                 "mark": {"type": "text", "font": "Lato", "fontSize": 12.5, "color": "#111111"},
                 "encoding": {"x": {"field": "f", "type": "quantitative", "scale": {"type": "log", "domain": [1, 18.5], "nice": false}},
                   "text": {"field": "text"}}},
                {"data": {"name": "hl"}, "transform": [{"filter": "datum.chart == 'upper'"}],
                 "mark": {"type": "rect", "fill": null, "fillOpacity": 0, "stroke": "#ee1111", "strokeWidth": 2, "cornerRadius": 8},
                 "encoding": {"x": {"field": "f", "type": "quantitative", "scale": {"type": "log", "domain": [1, 18.5], "nice": false}},
                   "x2": {"field": "f2"}, "y2": {"field": "t2"}}},
                {"data": {"name": "rd"}, "transform": [{"filter": "datum.chart == 'upper'"}],
                 "mark": {"type": "point", "filled": true, "size": 30, "color": "#ee1111", "opacity": 1},
                 "encoding": {"x": {"field": "f", "type": "quantitative", "scale": {"type": "log", "domain": [1, 18.5], "nice": false}}}}
              ]
            }
          ]
        }
      ]
    }
  ]
}
